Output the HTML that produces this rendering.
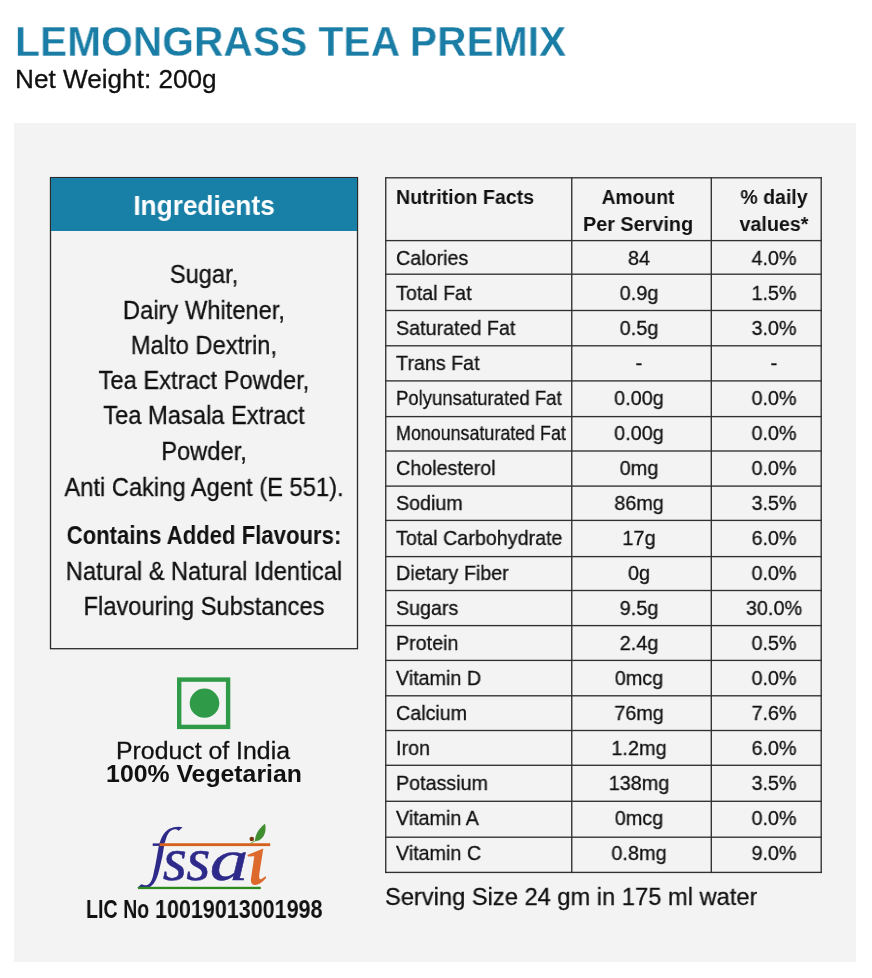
<!DOCTYPE html>
<html><head><meta charset="utf-8"><title>Lemongrass Tea Premix</title>
<style>
html,body{margin:0;padding:0;background:#fff;}
body{width:872px;height:978px;position:relative;overflow:hidden;font-family:"Liberation Sans",sans-serif;}
.t{position:absolute;line-height:0;white-space:nowrap;will-change:transform;}
.n{-webkit-text-stroke:0.3px currentColor;}
.r{position:absolute;box-sizing:content-box;}
</style></head><body>
<div class="t" style="top:42.45px;font-size:41.7px;color:#1a7da5;font-weight:bold;left:14.60px;transform-origin:0 50%;transform:scaleX(0.978);-webkit-text-stroke:0.35px #fff;">LEMONGRASS TEA PREMIX</div>
<div class="t n" style="top:79.47px;font-size:24.9px;color:#111;left:15.00px;transform-origin:0 50%;transform:scaleX(1.051);">Net Weight: 200g</div>
<div class="r" style="left:14px;top:123px;width:842px;height:839px;background:#f3f3f3"></div>
<svg class="r" style="left:45px;top:172px" width="320" height="482" viewBox="45 172 320 482"><rect x="50.5" y="177.6" width="307.0" height="471.1" fill="none" stroke="#2a2a2a" stroke-width="1.3"/></svg>
<div class="r" style="left:51px;top:178px;width:306.4px;height:53.2px;background:#187fa6"></div>
<div class="t" style="top:205.60px;font-size:27.7px;color:#fff;font-weight:bold;left:-96.00px;width:600px;text-align:center;transform-origin:50% 50%;transform:scaleX(0.948);">Ingredients</div>
<div class="t n" style="top:274.46px;font-size:25.5px;color:#111;left:-96.00px;width:600px;text-align:center;transform-origin:50% 50%;transform:scaleX(0.929);">Sugar,</div>
<div class="t n" style="top:309.76px;font-size:25.5px;color:#111;left:-96.00px;width:600px;text-align:center;transform-origin:50% 50%;transform:scaleX(0.929);">Dairy Whitener,</div>
<div class="t n" style="top:344.96px;font-size:25.5px;color:#111;left:-96.00px;width:600px;text-align:center;transform-origin:50% 50%;transform:scaleX(0.929);">Malto Dextrin,</div>
<div class="t n" style="top:380.16px;font-size:25.5px;color:#111;left:-96.00px;width:600px;text-align:center;transform-origin:50% 50%;transform:scaleX(0.929);">Tea Extract Powder,</div>
<div class="t n" style="top:415.36px;font-size:25.5px;color:#111;left:-96.00px;width:600px;text-align:center;transform-origin:50% 50%;transform:scaleX(0.929);">Tea Masala Extract</div>
<div class="t n" style="top:450.66px;font-size:25.5px;color:#111;left:-96.00px;width:600px;text-align:center;transform-origin:50% 50%;transform:scaleX(0.929);">Powder,</div>
<div class="t n" style="top:487.06px;font-size:25.5px;color:#111;left:-96.00px;width:600px;text-align:center;transform-origin:50% 50%;transform:scaleX(0.929);">Anti Caking Agent (E 551).</div>
<div class="t" style="top:535.16px;font-size:25.5px;color:#111;font-weight:bold;left:-96.00px;width:600px;text-align:center;transform-origin:50% 50%;transform:scaleX(0.868);">Contains Added Flavours:</div>
<div class="t n" style="top:571.23px;font-size:25.3px;color:#111;left:-96.00px;width:600px;text-align:center;transform-origin:50% 50%;transform:scaleX(0.936);">Natural &amp; Natural Identical</div>
<div class="t n" style="top:606.13px;font-size:25.3px;color:#111;left:-95.70px;width:600px;text-align:center;transform-origin:50% 50%;transform:scaleX(0.936);">Flavouring Substances</div>
<svg class="r" style="left:170px;top:670px" width="70" height="66" viewBox="170 670 70 66"><rect x="179.2" y="679.6" width="48.9" height="47.3" fill="none" stroke="#2f9b49" stroke-width="4.4"/><ellipse cx="204.5" cy="703.2" rx="14.8" ry="14.6" fill="#2f9b49"/></svg>
<div class="t n" style="top:750.54px;font-size:24.7px;color:#111;left:-96.60px;width:600px;text-align:center;transform-origin:50% 50%;transform:scaleX(1.006);">Product of India</div>
<div class="t" style="top:773.56px;font-size:23.2px;color:#111;font-weight:bold;left:-95.90px;width:600px;text-align:center;transform-origin:50% 50%;transform:scaleX(1.07);">100% Vegetarian</div>
<div class="t" style="top:909.43px;font-size:25.9px;color:#111;font-weight:bold;left:85.50px;transform-origin:0 50%;transform:scaleX(0.7586);">LIC No</div>
<div class="t" style="top:909.43px;font-size:25.9px;color:#111;font-weight:bold;left:155.20px;transform-origin:0 50%;transform:scaleX(0.8307);">10019013001998</div>
<svg class="r" style="left:130px;top:815px" width="150" height="85" viewBox="130 815 150 85">
<g font-family="Liberation Serif, serif" font-style="italic" font-size="60.2" fill="#2d2a8a" stroke="#2d2a8a" stroke-width="0.5">
<text transform="translate(162.7,880.0) scale(1.03,1)">s</text>
<text transform="translate(186.2,880.0) scale(1.03,1)">s</text>
<text transform="translate(209.7,880.0) scale(1.286,1)">a</text>
</g>
<path d="M182.6,827.3 C178.5,826.3 173.5,826.8 169.5,828.8 C165,831.2 162.3,835.8 160.4,840.7 C159.7,842.6 159.2,844 158.9,845.3 L156.6,858.4 C155.8,863 155,867 154.3,869.9 C153.6,873.5 153,876.5 152.1,879.1 C151.3,881.2 150.5,882.6 149.3,883.7 C148,884.9 146.5,885.3 145,885.2 C143.5,885.1 142.3,884.6 141.2,884.3 L137.2,887.9 C139.5,888.2 141.5,888.3 143.5,888.1 C145.5,888 147.3,887.8 148.9,887.2 C150.8,886.5 152.3,885.3 153.5,883.7 C154.8,882 155.8,880.3 156.6,878.3 C157.7,875.5 158.5,872.8 159.2,869.9 L162.3,856.8 L164.2,845.3 C164.5,843.5 164.9,842 165.4,840.7 C165.9,838.8 166.5,837 167.3,835.3 C168.1,833.6 169.1,832.2 170.4,831.1 C171.8,830 173.3,829.3 175,829.2 C176.5,829.2 177.8,829.8 178.8,830.7 Z" fill="#2d2a8a"/>
<rect x="152.7" y="843.4" width="8" height="2.5" fill="#2d2a8a"/>
<rect x="159.6" y="843.25" width="110.6" height="2.85" fill="#d6611f"/>
<rect x="138" y="886.8" width="122.8" height="2.3" fill="#2f8a1f"/>
<path d="M247.3,854.9 L263.3,848.5 L259.3,874 C258.8,878 259.5,880 261.5,879 L265.6,876.3 L266.3,877.8 C263,881.5 259,885 255.3,885 C251.8,885 250.5,882.5 251,878.5 L254.3,856.3 L248,856.5 Z" fill="#dd6a2c"/>
<path d="M250.4,843.3 L255.2,840.9" stroke="#6ab04c" stroke-width="1"/>
<circle cx="251.8" cy="839" r="2.3" fill="#7a3812"/>
<path d="M255,841.2 C254.8,835.5 258.5,828.5 265.1,823.8 C266.3,830 265.2,836.5 260,839.8 C258.3,840.8 256.5,841.2 255,841.2 Z" fill="#3f8f31"/>
</svg>
<svg class="r" style="left:380px;top:170px" width="450" height="710" viewBox="380 170 450 710"><rect x="385.07" y="177.12" width="436.80" height="1.35" fill="#303030"/><rect x="385.07" y="239.92" width="436.80" height="1.35" fill="#303030"/><rect x="385.07" y="273.52" width="436.80" height="1.35" fill="#303030"/><rect x="385.07" y="309.82" width="436.80" height="1.35" fill="#303030"/><rect x="385.07" y="345.12" width="436.80" height="1.35" fill="#303030"/><rect x="385.07" y="380.22" width="436.80" height="1.35" fill="#303030"/><rect x="385.07" y="415.93" width="436.80" height="1.35" fill="#303030"/><rect x="385.07" y="450.32" width="436.80" height="1.35" fill="#303030"/><rect x="385.07" y="485.43" width="436.80" height="1.35" fill="#303030"/><rect x="385.07" y="519.73" width="436.80" height="1.35" fill="#303030"/><rect x="385.07" y="555.93" width="436.80" height="1.35" fill="#303030"/><rect x="385.07" y="589.83" width="436.80" height="1.35" fill="#303030"/><rect x="385.07" y="624.93" width="436.80" height="1.35" fill="#303030"/><rect x="385.07" y="659.73" width="436.80" height="1.35" fill="#303030"/><rect x="385.07" y="695.12" width="436.80" height="1.35" fill="#303030"/><rect x="385.07" y="729.83" width="436.80" height="1.35" fill="#303030"/><rect x="385.07" y="764.62" width="436.80" height="1.35" fill="#303030"/><rect x="385.07" y="800.62" width="436.80" height="1.35" fill="#303030"/><rect x="385.07" y="836.53" width="436.80" height="1.35" fill="#303030"/><rect x="385.07" y="871.73" width="436.80" height="1.35" fill="#303030"/><rect x="385.07" y="177.12" width="1.35" height="695.95" fill="#303030"/><rect x="571.08" y="177.12" width="1.35" height="695.95" fill="#303030"/><rect x="710.62" y="177.12" width="1.35" height="695.95" fill="#303030"/><rect x="820.53" y="177.12" width="1.35" height="695.95" fill="#303030"/></svg>
<div class="t" style="top:196.57px;font-size:20.3px;color:#111;font-weight:bold;left:396.20px;transform-origin:0 50%;transform:scaleX(0.9655172413793104);">Nutrition Facts</div>
<div class="t" style="top:196.87px;font-size:20.3px;color:#111;font-weight:bold;left:338.40px;width:600px;text-align:center;transform-origin:50% 50%;transform:scaleX(0.9510344827586207);">Amount</div>
<div class="t" style="top:223.67px;font-size:20.3px;color:#111;font-weight:bold;left:338.40px;width:600px;text-align:center;transform-origin:50% 50%;transform:scaleX(0.9780689655172413);">Per Serving</div>
<div class="t" style="top:196.87px;font-size:20.3px;color:#111;font-weight:bold;left:473.60px;width:600px;text-align:center;transform-origin:50% 50%;transform:scaleX(0.9606896551724138);">% daily</div>
<div class="t" style="top:223.67px;font-size:20.3px;color:#111;font-weight:bold;left:473.60px;width:600px;text-align:center;transform-origin:50% 50%;transform:scaleX(0.9722758620689654);">values*</div>
<div class="t n" style="top:258.17px;font-size:20.3px;color:#111;left:395.60px;transform-origin:0 50%;transform:scaleX(0.9713103448275863);">Calories</div>
<div class="t n" style="top:258.17px;font-size:20.3px;color:#111;left:338.90px;width:600px;text-align:center;transform-origin:50% 50%;transform:scaleX(0.9780689655172413);">84</div>
<div class="t n" style="top:258.17px;font-size:20.3px;color:#111;left:473.90px;width:600px;text-align:center;transform-origin:50% 50%;transform:scaleX(0.9771034482758622);">4.0%</div>
<div class="t n" style="top:293.17px;font-size:20.3px;color:#111;left:395.60px;transform-origin:0 50%;transform:scaleX(0.9713103448275863);">Total Fat</div>
<div class="t n" style="top:293.17px;font-size:20.3px;color:#111;left:338.90px;width:600px;text-align:center;transform-origin:50% 50%;transform:scaleX(0.9780689655172413);">0.9g</div>
<div class="t n" style="top:293.17px;font-size:20.3px;color:#111;left:473.90px;width:600px;text-align:center;transform-origin:50% 50%;transform:scaleX(0.9771034482758622);">1.5%</div>
<div class="t n" style="top:328.17px;font-size:20.3px;color:#111;left:395.60px;transform-origin:0 50%;transform:scaleX(0.9713103448275863);">Saturated Fat</div>
<div class="t n" style="top:328.17px;font-size:20.3px;color:#111;left:338.90px;width:600px;text-align:center;transform-origin:50% 50%;transform:scaleX(0.9780689655172413);">0.5g</div>
<div class="t n" style="top:328.17px;font-size:20.3px;color:#111;left:473.90px;width:600px;text-align:center;transform-origin:50% 50%;transform:scaleX(0.9771034482758622);">3.0%</div>
<div class="t n" style="top:363.17px;font-size:20.3px;color:#111;left:395.60px;transform-origin:0 50%;transform:scaleX(0.9713103448275863);">Trans Fat</div>
<div class="t n" style="top:363.17px;font-size:20.3px;color:#111;left:338.90px;width:600px;text-align:center;transform-origin:50% 50%;transform:scaleX(0.9780689655172413);">-</div>
<div class="t n" style="top:363.17px;font-size:20.3px;color:#111;left:473.90px;width:600px;text-align:center;transform-origin:50% 50%;transform:scaleX(0.9771034482758622);">-</div>
<div class="t n" style="top:398.17px;font-size:20.3px;color:#111;left:395.60px;transform-origin:0 50%;transform:scaleX(0.9124137931034483);">Polyunsaturated Fat</div>
<div class="t n" style="top:398.17px;font-size:20.3px;color:#111;left:338.90px;width:600px;text-align:center;transform-origin:50% 50%;transform:scaleX(0.9780689655172413);">0.00g</div>
<div class="t n" style="top:398.17px;font-size:20.3px;color:#111;left:473.90px;width:600px;text-align:center;transform-origin:50% 50%;transform:scaleX(0.9771034482758622);">0.0%</div>
<div class="t n" style="top:433.17px;font-size:20.3px;color:#111;left:395.60px;transform-origin:0 50%;transform:scaleX(0.8805517241379311);">Monounsaturated Fat</div>
<div class="t n" style="top:433.17px;font-size:20.3px;color:#111;left:338.90px;width:600px;text-align:center;transform-origin:50% 50%;transform:scaleX(0.9780689655172413);">0.00g</div>
<div class="t n" style="top:433.17px;font-size:20.3px;color:#111;left:473.90px;width:600px;text-align:center;transform-origin:50% 50%;transform:scaleX(0.9771034482758622);">0.0%</div>
<div class="t n" style="top:468.17px;font-size:20.3px;color:#111;left:395.60px;transform-origin:0 50%;transform:scaleX(0.9713103448275863);">Cholesterol</div>
<div class="t n" style="top:468.17px;font-size:20.3px;color:#111;left:338.90px;width:600px;text-align:center;transform-origin:50% 50%;transform:scaleX(0.9780689655172413);">0mg</div>
<div class="t n" style="top:468.17px;font-size:20.3px;color:#111;left:473.90px;width:600px;text-align:center;transform-origin:50% 50%;transform:scaleX(0.9771034482758622);">0.0%</div>
<div class="t n" style="top:503.17px;font-size:20.3px;color:#111;left:395.60px;transform-origin:0 50%;transform:scaleX(0.9713103448275863);">Sodium</div>
<div class="t n" style="top:503.17px;font-size:20.3px;color:#111;left:338.90px;width:600px;text-align:center;transform-origin:50% 50%;transform:scaleX(0.9780689655172413);">86mg</div>
<div class="t n" style="top:503.17px;font-size:20.3px;color:#111;left:473.90px;width:600px;text-align:center;transform-origin:50% 50%;transform:scaleX(0.9771034482758622);">3.5%</div>
<div class="t n" style="top:538.17px;font-size:20.3px;color:#111;left:395.60px;transform-origin:0 50%;transform:scaleX(0.9713103448275863);">Total Carbohydrate</div>
<div class="t n" style="top:538.17px;font-size:20.3px;color:#111;left:338.90px;width:600px;text-align:center;transform-origin:50% 50%;transform:scaleX(0.9780689655172413);">17g</div>
<div class="t n" style="top:538.17px;font-size:20.3px;color:#111;left:473.90px;width:600px;text-align:center;transform-origin:50% 50%;transform:scaleX(0.9771034482758622);">6.0%</div>
<div class="t n" style="top:573.17px;font-size:20.3px;color:#111;left:395.60px;transform-origin:0 50%;transform:scaleX(0.9713103448275863);">Dietary Fiber</div>
<div class="t n" style="top:573.17px;font-size:20.3px;color:#111;left:338.90px;width:600px;text-align:center;transform-origin:50% 50%;transform:scaleX(0.9780689655172413);">0g</div>
<div class="t n" style="top:573.17px;font-size:20.3px;color:#111;left:473.90px;width:600px;text-align:center;transform-origin:50% 50%;transform:scaleX(0.9771034482758622);">0.0%</div>
<div class="t n" style="top:608.17px;font-size:20.3px;color:#111;left:395.60px;transform-origin:0 50%;transform:scaleX(0.9713103448275863);">Sugars</div>
<div class="t n" style="top:608.17px;font-size:20.3px;color:#111;left:338.90px;width:600px;text-align:center;transform-origin:50% 50%;transform:scaleX(0.9780689655172413);">9.5g</div>
<div class="t n" style="top:608.17px;font-size:20.3px;color:#111;left:473.90px;width:600px;text-align:center;transform-origin:50% 50%;transform:scaleX(0.9771034482758622);">30.0%</div>
<div class="t n" style="top:643.17px;font-size:20.3px;color:#111;left:395.60px;transform-origin:0 50%;transform:scaleX(0.9713103448275863);">Protein</div>
<div class="t n" style="top:643.17px;font-size:20.3px;color:#111;left:338.90px;width:600px;text-align:center;transform-origin:50% 50%;transform:scaleX(0.9780689655172413);">2.4g</div>
<div class="t n" style="top:643.17px;font-size:20.3px;color:#111;left:473.90px;width:600px;text-align:center;transform-origin:50% 50%;transform:scaleX(0.9771034482758622);">0.5%</div>
<div class="t n" style="top:678.17px;font-size:20.3px;color:#111;left:395.60px;transform-origin:0 50%;transform:scaleX(0.9713103448275863);">Vitamin D</div>
<div class="t n" style="top:678.17px;font-size:20.3px;color:#111;left:338.90px;width:600px;text-align:center;transform-origin:50% 50%;transform:scaleX(0.9780689655172413);">0mcg</div>
<div class="t n" style="top:678.17px;font-size:20.3px;color:#111;left:473.90px;width:600px;text-align:center;transform-origin:50% 50%;transform:scaleX(0.9771034482758622);">0.0%</div>
<div class="t n" style="top:713.17px;font-size:20.3px;color:#111;left:395.60px;transform-origin:0 50%;transform:scaleX(0.9713103448275863);">Calcium</div>
<div class="t n" style="top:713.17px;font-size:20.3px;color:#111;left:338.90px;width:600px;text-align:center;transform-origin:50% 50%;transform:scaleX(0.9780689655172413);">76mg</div>
<div class="t n" style="top:713.17px;font-size:20.3px;color:#111;left:473.90px;width:600px;text-align:center;transform-origin:50% 50%;transform:scaleX(0.9771034482758622);">7.6%</div>
<div class="t n" style="top:748.17px;font-size:20.3px;color:#111;left:395.60px;transform-origin:0 50%;transform:scaleX(0.9713103448275863);">Iron</div>
<div class="t n" style="top:748.17px;font-size:20.3px;color:#111;left:338.90px;width:600px;text-align:center;transform-origin:50% 50%;transform:scaleX(0.9780689655172413);">1.2mg</div>
<div class="t n" style="top:748.17px;font-size:20.3px;color:#111;left:473.90px;width:600px;text-align:center;transform-origin:50% 50%;transform:scaleX(0.9771034482758622);">6.0%</div>
<div class="t n" style="top:783.17px;font-size:20.3px;color:#111;left:395.60px;transform-origin:0 50%;transform:scaleX(0.9713103448275863);">Potassium</div>
<div class="t n" style="top:783.17px;font-size:20.3px;color:#111;left:338.90px;width:600px;text-align:center;transform-origin:50% 50%;transform:scaleX(0.9780689655172413);">138mg</div>
<div class="t n" style="top:783.17px;font-size:20.3px;color:#111;left:473.90px;width:600px;text-align:center;transform-origin:50% 50%;transform:scaleX(0.9771034482758622);">3.5%</div>
<div class="t n" style="top:818.17px;font-size:20.3px;color:#111;left:395.60px;transform-origin:0 50%;transform:scaleX(0.9713103448275863);">Vitamin A</div>
<div class="t n" style="top:818.17px;font-size:20.3px;color:#111;left:338.90px;width:600px;text-align:center;transform-origin:50% 50%;transform:scaleX(0.9780689655172413);">0mcg</div>
<div class="t n" style="top:818.17px;font-size:20.3px;color:#111;left:473.90px;width:600px;text-align:center;transform-origin:50% 50%;transform:scaleX(0.9771034482758622);">0.0%</div>
<div class="t n" style="top:853.17px;font-size:20.3px;color:#111;left:395.60px;transform-origin:0 50%;transform:scaleX(0.9713103448275863);">Vitamin C</div>
<div class="t n" style="top:853.17px;font-size:20.3px;color:#111;left:338.90px;width:600px;text-align:center;transform-origin:50% 50%;transform:scaleX(0.9780689655172413);">0.8mg</div>
<div class="t n" style="top:853.17px;font-size:20.3px;color:#111;left:473.90px;width:600px;text-align:center;transform-origin:50% 50%;transform:scaleX(0.9771034482758622);">9.0%</div>
<div class="t n" style="top:896.88px;font-size:24.6px;color:#111;left:384.70px;transform-origin:0 50%;transform:scaleX(0.9625);">Serving Size 24 gm in 175 ml water</div>
</body></html>
